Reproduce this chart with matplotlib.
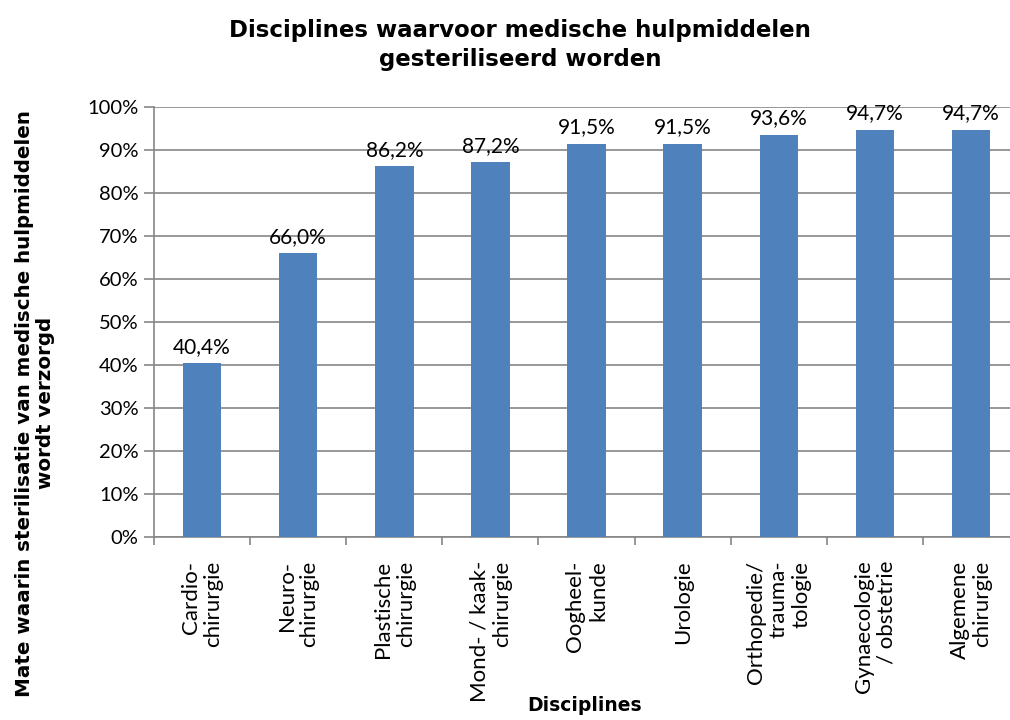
import numpy as np
import matplotlib.pyplot as plt
from matplotlib.ticker import PercentFormatter

# data
disciplines = ['Cardio-\nchirurgie', 'Neuro-\nchirurgie', 'Plastische\nchirurgie',
               'Mond- / kaak-\nchirurgie', 'Oogheel-\nkunde', 'Urologie',
               'Orthopedie/\ntrauma-\ntologie', 'Gynaecologie\n/ obstetrie',
               'Algemene\nchirurgie']
percentages = [40.4, 66.0, 86.2, 87.2, 91.5, 91.5, 93.6, 94.7, 94.7]
y_ticks = list(range(0, 101, 10))

plt.rcParams['font.family'] = ['Lato', 'DejaVu Sans']

fig = plt.figure(figsize=(10.1, 7.2), dpi=100)
ax = fig.add_axes([0.1525, 0.254, 1.009 - 0.1525, 0.8514 - 0.254])

x = np.arange(len(disciplines))
bars = ax.bar(x, percentages, width=0.4, color='#4F81BD', zorder=3)

for b, v in zip(bars, percentages):
    ax.text(b.get_x() + b.get_width() / 2, v + 1.5, f'{v:.1f}%'.replace('.', ','),
            ha='center', va='bottom', fontsize=15)

ax.set_xlim(-0.5, len(disciplines) - 0.5)
ax.set_ylim(0, 100)
ax.set_yticks(y_ticks)
ax.yaxis.set_major_formatter(PercentFormatter(decimals=0))
ax.grid(axis='y', color='#868686', linewidth=1.2, zorder=0)

ax.set_xticks(np.arange(len(disciplines) + 1) - 0.5, minor=False)
ax.set_xticklabels([])
ax.set_xticks(x, minor=True)
ax.set_xticklabels(disciplines, minor=True, rotation=90, ha='center', va='top',
                   multialignment='right', fontsize=16, linespacing=1.17)
ax.tick_params(axis='x', which='minor', length=0, pad=17)
ax.tick_params(axis='x', which='major', length=6, color='#868686', width=1.2)
ax.tick_params(axis='y', length=7, color='#868686', width=1.2, labelsize=14.5, pad=4)

for s in ['top', 'right']:
    ax.spines[s].set_visible(False)
for s in ['left', 'bottom']:
    ax.spines[s].set_color('#868686')
    ax.spines[s].set_linewidth(1.2)

fig.text(0.515, 0.9375, 'Disciplines waarvoor medische hulpmiddelen\ngesteriliseerd worden',
         ha='center', va='center', fontsize=16.5, fontweight='bold', family='DejaVu Sans',
         linespacing=1.3)
fig.text(0.035, 0.44, 'Mate waarin sterilisatie van medische hulpmiddelen\nwordt verzorgd',
         ha='center', va='center', rotation=90, fontsize=14.3, fontweight='bold',
         family='DejaVu Sans', linespacing=1.15)
fig.text(0.579, 0.02, 'Disciplines', ha='center', va='center', fontsize=13.5,
         fontweight='bold', family='DejaVu Sans')

fig.savefig('out.png', dpi=100)
